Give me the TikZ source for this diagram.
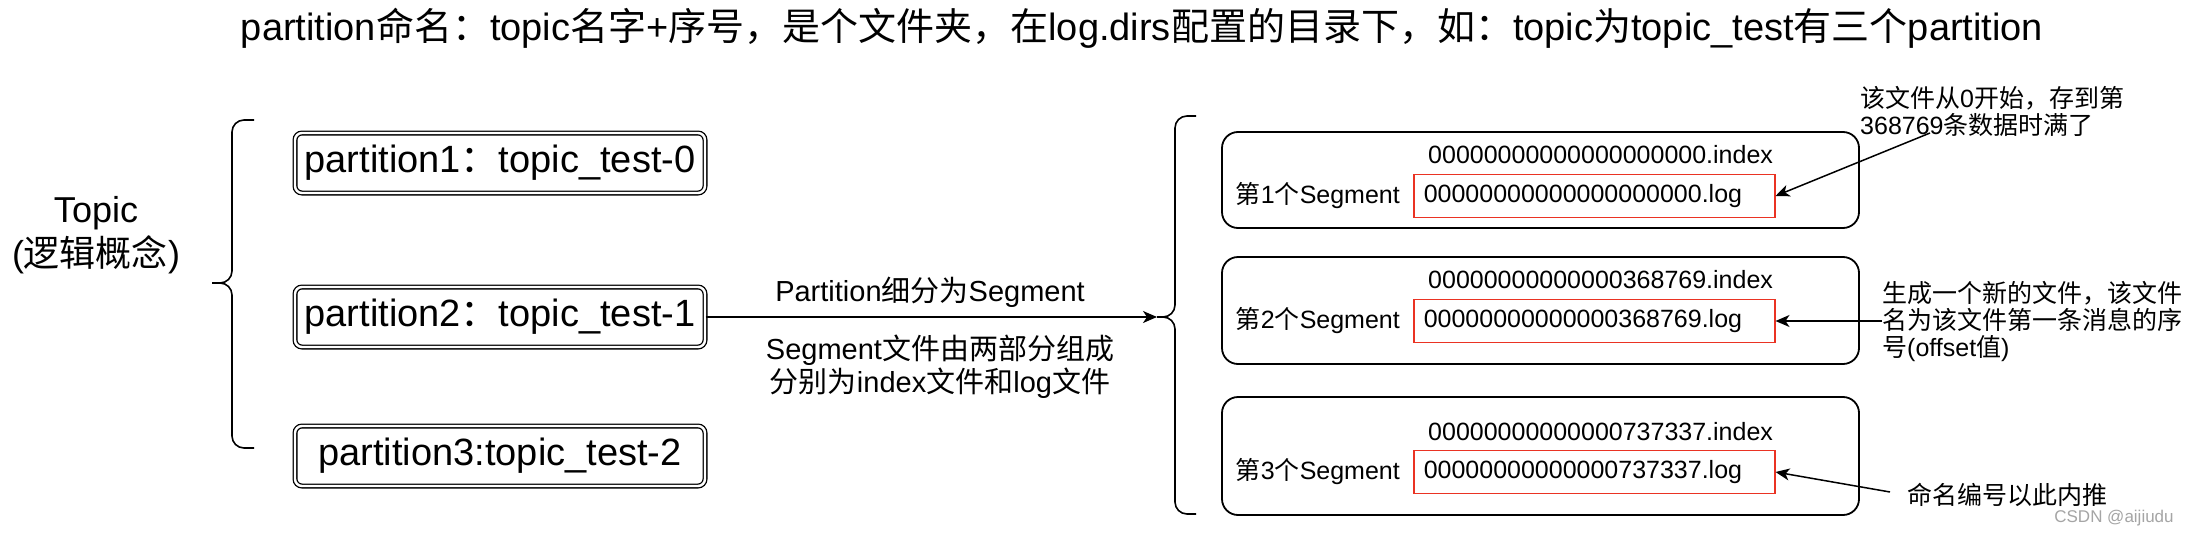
\documentclass[tikz,border=0pt]{standalone}
\usepackage{fontspec}
\setmainfont{Liberation Sans}
\newfontfamily\hanzifont{Noto Sans CJK SC}
\newcommand{\hanzi}[1]{{\hanzifont #1}}
\usetikzlibrary{arrows.meta}

\definecolor{kafkaLogRed}{RGB}{234,51,35}
\definecolor{kafkaMark}{RGB}{165,165,165}

\begin{document}
\begin{tikzpicture}[x=1pt,y=-1pt,
      title/.style={font=\fontsize{38}{44}\selectfont, inner sep=0pt},
      topic/.style={font=\fontsize{36}{44}\selectfont, align=center,
        inner sep=0pt},
      partbox/.style={draw, double, double distance=2.4pt, line width=1.3pt,
        rounded corners=7pt, minimum width=410pt, minimum height=60pt,
        inner sep=0pt, font=\fontsize{38}{44}\selectfont},
      brace/.style={draw, line width=1.6pt, rounded corners=12pt},
      caption/.style={font=\fontsize{29}{33}\selectfont, align=center,
        inner sep=0pt},
      card/.style={draw, line width=1.8pt, rounded corners=16pt},
      filename/.style={font=\fontsize{25}{28}\selectfont, inner sep=0pt,
        anchor=west},
      seglabel/.style={font=\fontsize{25}{28}\selectfont, inner sep=0pt,
        anchor=east},
      logbox/.style={draw=kafkaLogRed, line width=1.5pt, minimum height=43pt,
        text width=341pt, inner xsep=10pt, inner ysep=0pt, align=left,
        anchor=west, font=\fontsize{25}{28}\selectfont},
      note/.style={font=\fontsize{25}{27}\selectfont, align=left,
        inner sep=0pt, anchor=west},
      arrow/.style={draw, line width=1.5pt,
        -{Stealth[length=14pt,width=12pt,inset=4pt]}}]
      \useasboundingbox (0,0) rectangle (2198,538);
      \fill[white] (0,0) rectangle (2198,538);

      % Heading across the top.
      \node[title] (heading) at (1142,28) {partition\hanzi{命名：}topic\hanzi{名字}+\hanzi{序号，是个文件夹，在}log.dirs\hanzi{配置的目录下，如：}topic\hanzi{为}topic\_test\hanzi{有三个}partition};

      % Topic and its three partitions.
      \node[topic] (topic) at (96,235) {Topic\\(\hanzi{逻辑概念})};
      \draw[brace] (254,120) -- (232,120) -- (232,283) -- (212,283);
      \draw[brace] (212,283) -- (232,283) -- (232,448) -- (254,448);

      \node[partbox] (part1) at (500,163) {partition1\hanzi{：}topic\_test-0};
      \node[partbox] (part2) at (500,317) {partition2\hanzi{：}topic\_test-1};
      \node[partbox] (part3) at (500,456) {partition3:topic\_test-2};

      % Partition split into segments.
      \draw[brace] (1196,116) -- (1175,116) -- (1175,317) -- (1157,317);
      \draw[brace] (1157,317) -- (1175,317) -- (1175,514) -- (1196,514);
      \coordinate (brace2tip) at (1157,317);
      \draw[arrow] (part2.east) -- (brace2tip);
      \node[caption] (split) at (930,292) {Partition\hanzi{细分为}Segment};
      \node[caption] (parts) at (940,367)
        {Segment\hanzi{文件由两部分组成}\\\hanzi{分别为}index\hanzi{文件和}log\hanzi{文件}};

      \foreach \i/\top/\bottom/\idx/\logy/\num in {
          1/132/228/155/196/00000000000000000000,
          2/257/364/280/321/00000000000000368769,
          3/397/515/432/472/00000000000000737337}{
        \path[card] (1222,\top) rectangle (1859,\bottom);
        \node[filename] (index\i) at (1428,\idx) {\num.index};
        \node[seglabel] (segment\i) at (1400,\logy)
          {\hanzi{第}\i\hanzi{个}Segment};
        \node[logbox] (log\i) at (1413,\logy) {\num.log};}

      % Notes on the right.
      \node[note] (note1) at (1860,111)
        {\hanzi{该文件从}0\hanzi{开始，存到第}\\368769\hanzi{条数据时满了}};
      \node[note] (note2) at (1882,321)
        {\hanzi{生成一个新的文件，该文件}\\\hanzi{名为该文件第一条消息的序}\\\hanzi{号}(offset\hanzi{值})};
      \node[note] (note3) at (1907,495) {\hanzi{命名编号以此内推}};
      \coordinate (note1tail) at (1930,133);
      \coordinate (note3tail) at (1890,492);
      \draw[arrow] (note1tail) -- (log1.east);
      \draw[arrow] (note2.west) -- (log2.east);
      \draw[arrow] (note3tail) -- (log3.east);

      \node[font=\fontsize{17}{20}\selectfont, text=kafkaMark, inner sep=0pt]
        (mark) at (2114,518) {CSDN @aijiudu};
    \end{tikzpicture}
\end{document}
